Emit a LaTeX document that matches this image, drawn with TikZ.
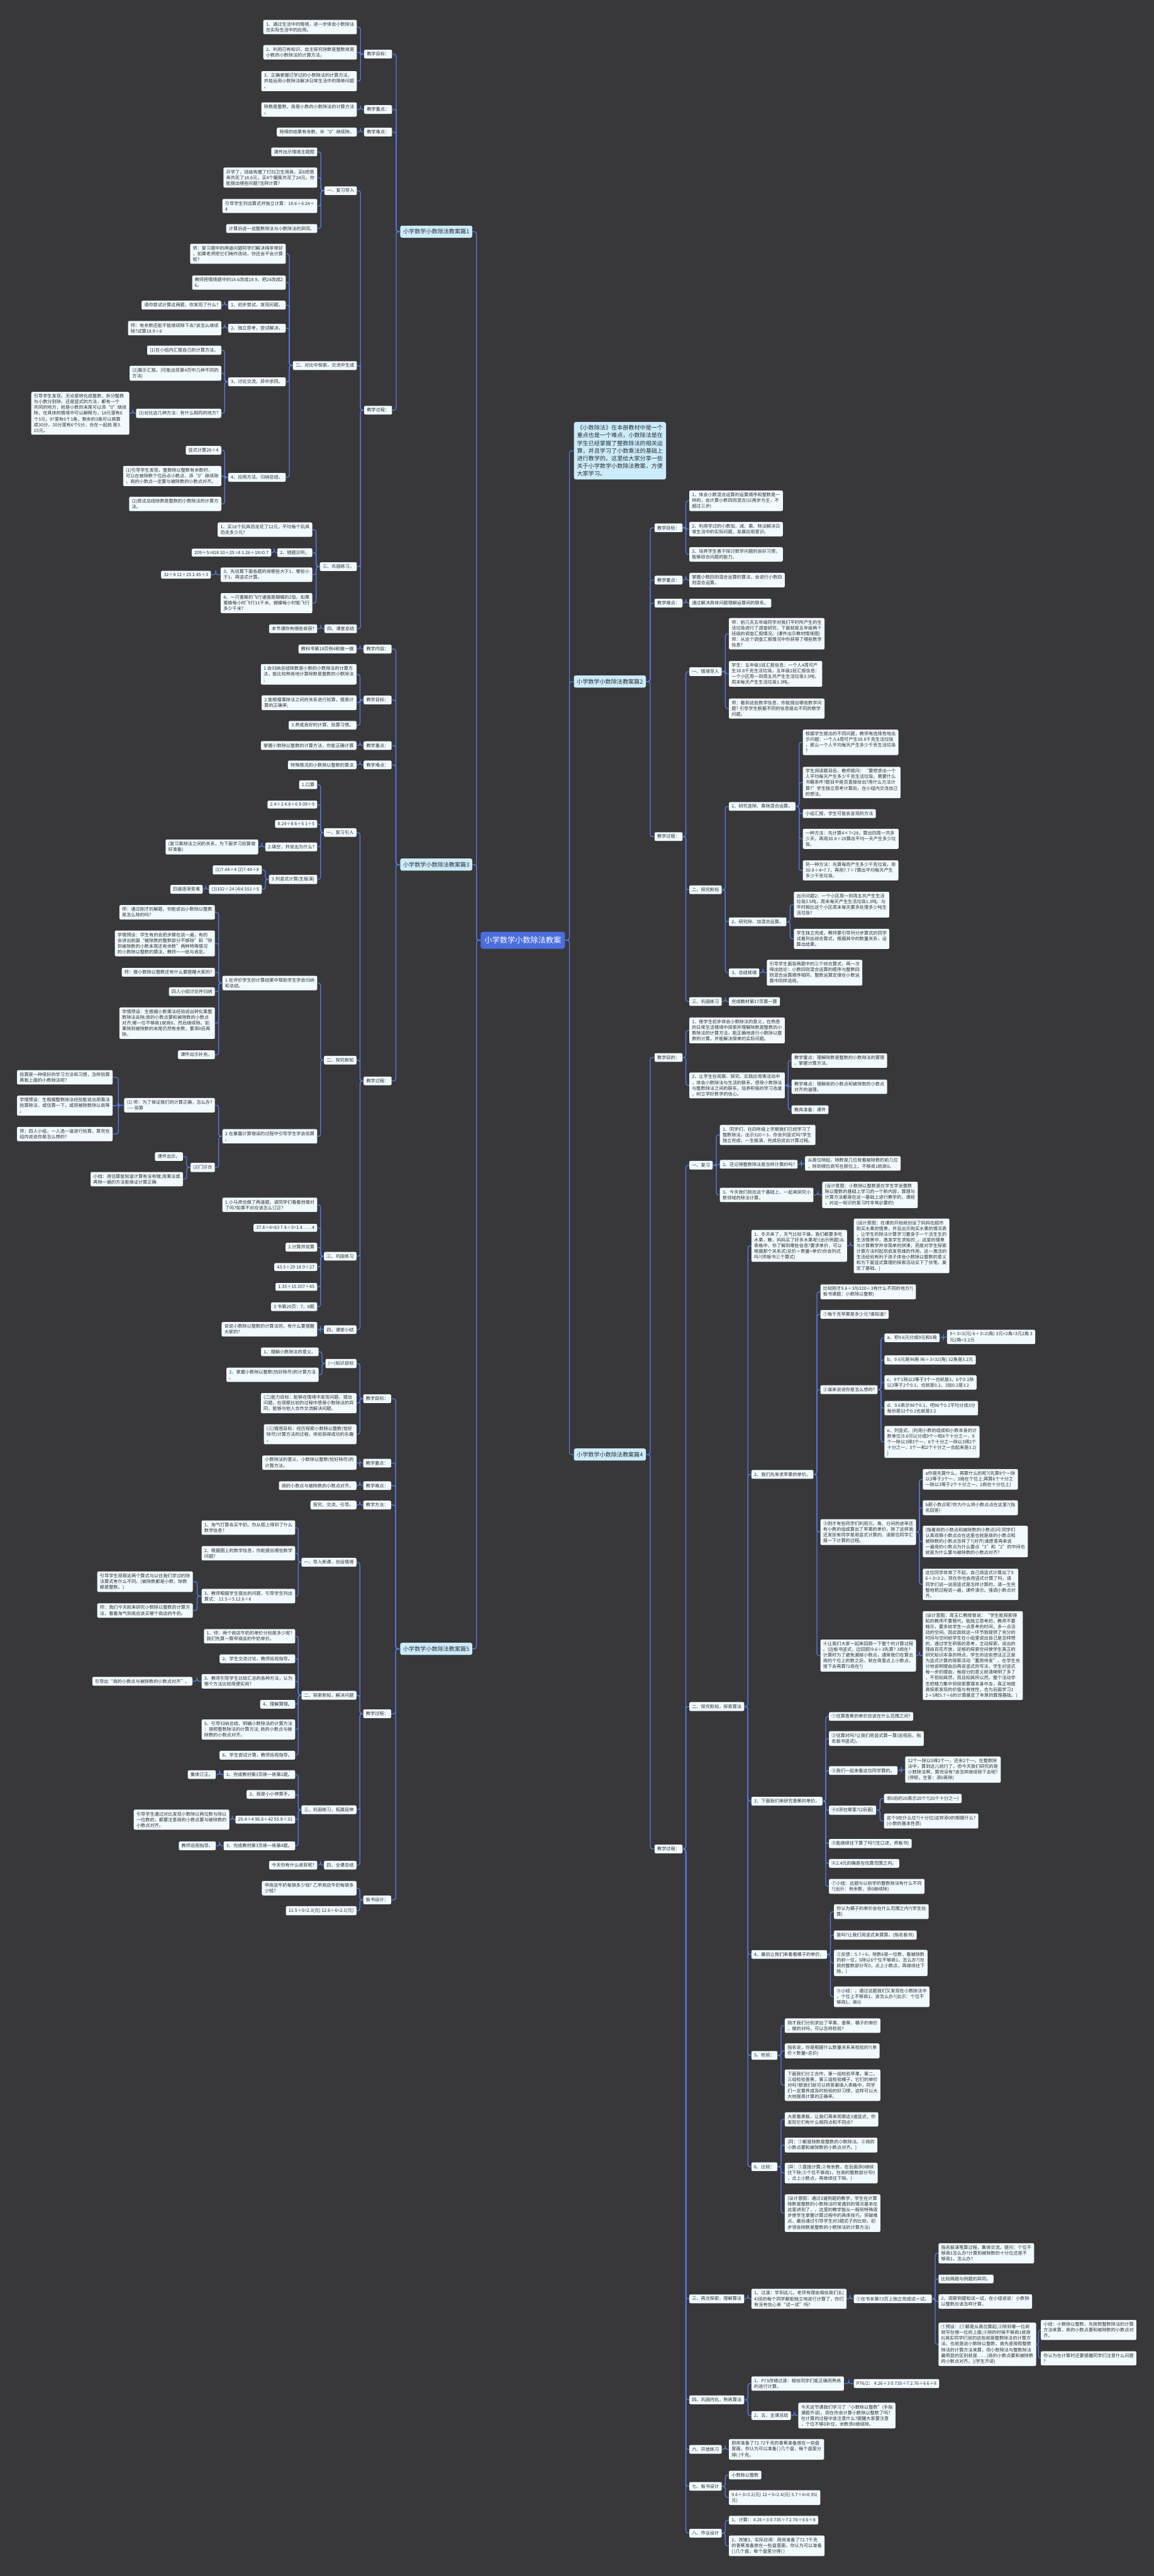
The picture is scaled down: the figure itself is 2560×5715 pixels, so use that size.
\documentclass[tikz,border=0pt]{standalone}
\usepackage{fontspec}
\setmainfont{Noto Sans CJK SC}
\usetikzlibrary{calc}
\definecolor{bgc}{RGB}{56,56,58}
\definecolor{lnc}{RGB}{88,122,228}
\definecolor{ndc}{RGB}{241,250,255}
\definecolor{mnc}{RGB}{204,236,252}
\definecolor{rtc}{RGB}{74,110,222}
\definecolor{txc}{RGB}{45,45,45}
\newcommand\cL[2]{\draw[conn] (#1.west) -| ($(#1.west)!.5!(#2.east)$) |- (#2.east);}
\newcommand\cR[2]{\draw[conn] (#1.east) -| ($(#1.east)!.5!(#2.west)$) |- (#2.west);}
\begin{document}
\begin{tikzpicture}[x=1pt,y=-1pt,
 conn/.style={draw=lnc,line width=1.8pt,rounded corners=5pt},
 nd/.style={fill=ndc,text=txc,rounded corners=3pt,inner xsep=6pt,inner ysep=5pt,align=left,font=\fontsize{10}{12.6}\selectfont},
 lf/.style={nd,anchor=east},
 rg/.style={nd,anchor=west},
 mn/.style={fill=mnc,text=txc,rounded corners=4pt,inner xsep=6.5pt,inner ysep=7.5pt,font=\fontsize{12.7}{16}\selectfont},
 rt/.style={fill=rtc,text=white,rounded corners=5pt,inner xsep=8.5pt,inner ysep=11pt,font=\fontsize{17}{20}\selectfont},
 intro/.style={fill=mnc,text=txc,rounded corners=5pt,inner xsep=7pt,inner ysep=7pt,align=left,font=\fontsize{12.7}{17}\selectfont}]
\fill[bgc] (0,0) rectangle (2560,5715);
\useasboundingbox (0,0) rectangle (2560,5715);
% ---------- root and main branches
\node[rt] (root) at (1160,2086) {小学数学小数除法教案};
\node[mn,anchor=east] (A) at (1048,514) {小学数学小数除法教案篇1};
\node[mn,anchor=east] (C) at (1048,1918) {小学数学小数除法教案篇3};
\node[mn,anchor=east] (E) at (1048,3658) {小学数学小数除法教案篇5};
\node[intro,anchor=west] (I) at (1273,1000) {《小数除法》在本册教材中是一个\\重点也是一个难点，小数除法是在\\学生已经掌握了整数除法的相关运\\算，并且学习了小数乘法的基础上\\进行教学的。这里给大家分享一些\\关于小学数学小数除法教案，方便\\大家学习。};
\node[mn,anchor=west] (B) at (1273,1512) {小学数学小数除法教案篇2};
\node[mn,anchor=west] (D) at (1273,3227) {小学数学小数除法教案篇4};
% ---------- 篇1
\node[lf] (A1) at (870,120) {教学目标：};
\node[lf] (A2) at (870,243) {教学重点：};
\node[lf] (A3) at (870,293) {教学难点：};
\node[lf] (A4) at (870,910) {教学过程：};
\node[lf] (A1a) at (792,60) {1、通过生活中的情境，进一步体会小数除法\\在实际生活中的应用。};
\node[lf] (A1b) at (792,116) {2、利用已有知识，自主探究除数是整数商是\\小数的小数除法的计算方法。};
\node[lf] (A1c) at (792,180) {3、正确掌握已学过的小数除法的计算方法，\\并能运用小数除法解决日常生活中的简单问题\\。};
\node[lf] (A2a) at (792,243) {除数是整数，商是小数的小数除法的计算方法\\。};
\node[lf] (A3a) at (792,293) {除得的结果有余数，补“0”继续除。};
\node[lf] (A41) at (792,423) {一、复习导入};
\node[lf] (A42) at (792,811) {二、对比中探索，交流中生成};
\node[lf] (A43) at (792,1257) {三、巩固练习。};
\node[lf] (A44) at (792,1395) {四、课堂总结};
\node[lf] (A41a) at (704,337) {课件出示情境主题图};
\node[lf] (A41b) at (704,394) {开学了，班级购置了打扫卫生用具，买6把笤\\帚共花了18.6元，买4个簸箕共花了24元。你\\能提出哪些问题?怎样计算?};
\node[lf] (A41c) at (704,457) {引导学生列出算式并独立计算：18.6÷6 24÷\\4};
\node[lf] (A41d) at (704,507) {计算后说一说整数除法与小数除法的异同。};
\node[lf] (A42a) at (634,563) {师：复习题中的两道问题同学们解决得非常好\\，如果老师把它们稍作改动，你还会不会计算\\呢?};
\node[lf] (A42b) at (634,627) {教师把情境题中的18.6改成18.9，把24改成2\\6。};
\node[lf] (A42c) at (634,677) {1、初步尝试，发现问题。};
\node[lf] (A42c1) at (491,677) {请你尝试计算这两题，你发现了什么?};
\node[lf] (A42d) at (634,728) {2、独立思考，尝试解决。};
\node[lf] (A42d1) at (491,728) {师：有余数还能不能继续除下去?该怎么继续\\除?试算18.9÷6};
\node[lf] (A42e) at (634,847) {3、讨论交流，异中求同。};
\node[lf] (A42e1) at (491,777) {(1)在小组内汇报自己的计算方法。};
\node[lf] (A42e2) at (491,828) {(2)展示汇报。(可能出现第4页中几种不同的\\方法)};
\node[lf] (A42e3) at (491,917) {(3)对比这几种方法：有什么相同的地方?};
\node[lf] (A42e3a) at (287,917) {引导学生发现，无论是转化成整数，拆分整数\\与小数分别除，还是竖式的方法，都有一个\\共同的地方，就是小数的末尾可以添“0”继续\\除，在具体的情境中可以解释为，18元里有6\\个3元，9?里有6个1角，剩余的3角可以换算\\成30分，30分里有6个5分，合在一起就 是3.\\15元。};
\node[lf] (A42f) at (634,1059) {4、应用方法，归纳总结。};
\node[lf] (A42f1) at (491,999) {竖式计算26÷4};
\node[lf] (A42f2) at (491,1056) {(1)引导学生发现，整数除以整数有余数时，\\可以在被除数个位后点小数点，添“0”继续除\\，商的小数点一定要与被除数的小数点对齐。};
\node[lf] (A42f3) at (491,1118) {(2)尝试总结除数是整数的小数除法的计算方\\法。};
\node[lf] (A43a) at (693,1175) {1、买16个玩具恐龙花了12元，平均每个玩具\\恐龙多少元?};
\node[lf] (A43b) at (693,1226) {2、错题诊所。};
\node[lf] (A43b1) at (602,1226) {209÷5=418 10÷25 =4 1.26÷18=0.7};
\node[lf] (A43c) at (693,1275) {3、先估算下面各题的商哪些大于1，哪些小\\于1，再竖式计算。};
\node[lf] (A43c1) at (468,1275) {32÷8 12÷25 2.45÷3};
\node[lf] (A43d) at (693,1338) {4、一只蜜蜂的飞行速度是蝴蝶的2倍。如果\\蜜蜂每小时飞行11千米，蝴蝶每小时能飞行\\多少千米?};
\node[lf] (A44a) at (704,1395) {本节课你有哪些收获?};
% ---------- 篇3
\node[lf] (C1) at (869,1440) {教学内容：};
\node[lf] (C2) at (869,1553) {教学目标：};
\node[lf] (C3) at (869,1654) {教学重点：};
\node[lf] (C4) at (869,1697) {教学难点：};
\node[lf] (C5) at (869,2398) {教学过程：};
\node[lf] (C1a) at (791,1440) {教科书第18页例4和做一做};
\node[lf] (C2a) at (791,1496) {1.会归纳总结除数是小数的小数除法的计算方\\法，能比较熟练地计算除数是整数的小数除法\\;};
\node[lf] (C2b) at (791,1559) {2.能根据乘除法之间的关系进行验算，提高计\\算的正确率;};
\node[lf] (C2c) at (791,1609) {3.养成良好的计算、验算习惯。};
\node[lf] (C3a) at (791,1654) {掌握小数除以整数的计算方法，你能正确计算};
\node[lf] (C4a) at (791,1697) {特殊情况的小数除以整数的算法};
\node[lf] (C51) at (791,1847) {一、复习引入};
\node[lf] (C52) at (791,2352) {二、探究新知};
\node[lf] (C53) at (791,2787) {三、巩固练习};
\node[lf] (C54) at (791,2950) {四、课堂小结};
\node[lf] (C51a) at (704,1741) {1.口算};
\node[lf] (C51b) at (704,1785) {2.4÷2 4.8÷6 9.09÷9};
\node[lf] (C51c) at (704,1828) {8.24÷8 6÷5 1÷5};
\node[lf] (C51d) at (704,1879) {2.填空，并说出为什么?};
\node[lf] (C51d1) at (573,1879) {(复习乘除法之间的关系，为下面学习验算做\\好准备)};
\node[lf] (C51e) at (704,1951) {3.列竖式计算(生板演)};
\node[lf] (C51e1) at (581,1930) {(1)7.44÷4 (2)7.44÷8};
\node[lf] (C51e2) at (581,1973) {(3)102÷24 (4)4.551÷5};
\node[lf] (C51e2a) at (450,1973) {四道逐渐变难};
\node[lf] (C52a) at (704,2181) {1.在评价学生的计算结果中帮助学生学会归纳\\和总结。};
\node[lf] (C52a1) at (477,2024) {师：通过刚才的解题，你能说出小数除以整数\\是怎么除的吗?};
\node[lf] (C52a2) at (477,2093) {学情预设：学生有的会把步骤在说一遍，有的\\会讲出前面“被除数的整数部分不够除”和“除\\到被除数的小数末尾还有余数”两种特殊情况\\的小数除以整数的算法，教师一一给与肯定。};
\node[lf] (C52a3) at (477,2157) {师：做小数除以整数还有什么要提醒大家的?};
\node[lf] (C52a4) at (477,2200) {四人小组讨论并归纳};
\node[lf] (C52a5) at (477,2270) {学情预设：生根据小数乘法经验说出转化乘整\\数除法去除;商的小数点要和被除数的小数点\\对齐;哪一位不够商1就商0，然后继续除。如\\果除到被除数的末尾仍然有余数，要添0后再\\除。};
\node[lf] (C52a6) at (477,2340) {课件出示补充。};
\node[lf] (C52b) at (704,2521) {2.在暴露计算错误的过程中引导学生学会验算\\。};
\node[lf] (C52b1) at (477,2452) {(1) 师：为了保证我们的计算正确，怎么办?\\——验算};
\node[lf] (C52b1a) at (250,2390) {验算是一种很好的学习方法和习惯，怎样验算\\黑板上面的小数除法呢?};
\node[lf] (C52b1b) at (250,2453) {学情预设：生根据整数除法经验能说出用乘法\\验算除法，或估算一下，或用被除数除以商等\\。};
\node[lf] (C52b1c) at (250,2516) {师：四人小组，一人选一道进行验算，算完在\\组内说说你是怎么想的?};
\node[lf] (C52b2) at (477,2590) {(2)门诊台};
\node[lf] (C52b2a) at (406,2566) {课件出示。};
\node[lf] (C52b2b) at (406,2616) {小结：用估算能知道计算有没有错;用乘法或\\再除一遍的方法能保证计算正确};
\node[lf] (C53a) at (704,2673) {1.小马虎也做了两道题，请同学们看看他做对\\了吗?如果不对应该怎么订正?};
\node[lf] (C53b) at (704,2724) {37.8÷6=63 7.4÷5=1.4……4};
\node[lf] (C53c) at (704,2767) {2.计算并验算};
\node[lf] (C53d) at (704,2811) {43.5÷29 18.9÷27};
\node[lf] (C53e) at (704,2855) {1.35÷15 207÷45};
\node[lf] (C53f) at (704,2899) {3.书第20页：7、8题};
\node[lf] (C54a) at (704,2949) {说说小数除以整数的计算法则，有什么要提醒\\大家的?};
% ---------- 篇5
\node[lf] (E1) at (868,3103) {教学目标：};
\node[lf] (E2) at (868,3246) {教学重点：};
\node[lf] (E3) at (868,3296) {教学难点：};
\node[lf] (E4) at (868,3339) {教学方法：};
\node[lf] (E5) at (868,3802) {教学过程：};
\node[lf] (E6) at (868,4215) {板书设计：};
\node[lf] (E1a) at (791,3025) {(一)知识目标};
\node[lf] (E1a1) at (707,2999) {1、理解小数除法的意义。};
\node[lf] (E1a2) at (707,3050) {2、掌握小数除以整数(恰好除尽)的计算方法\\。};
\node[lf] (E1b) at (791,3113) {(二)能力目标：能够在情境中发现问题、提出\\问题，在观察比较的过程中感受小数除法的异\\同，能够与他人合作交流解决问题。};
\node[lf] (E1c) at (791,3182) {(三)情感目标：经历探索小数除以整数(恰好\\除尽)计算方法的过程，体验获得成功的乐趣\\。};
\node[lf] (E2a) at (791,3245) {小数除法的意义，小数除以整数(恰好除尽)的\\计算方法。};
\node[lf] (E3a) at (791,3296) {商的小数点与被除数的小数点对齐。};
\node[lf] (E4a) at (791,3339) {探究、交流、引导。};
\node[lf] (E51) at (791,3466) {一、导入新课，创设情境};
\node[lf] (E52) at (791,3761) {二、探索新知，解决问题};
\node[lf] (E53) at (791,4015) {三、巩固练习，拓展延伸};
\node[lf] (E54) at (791,4138) {四、全课总结};
\node[lf] (E54a) at (704,4138) {今天你有什么收获呢?};
\node[lf] (E51a) at (655,3389) {1、淘气打算去买牛奶。你从图上得到了什么\\数学信息?};
\node[lf] (E51b) at (655,3446) {2、根据图上的数学信息，你能提出哪些数学\\问题?};
\node[lf] (E51c) at (655,3541) {3、教师根据学生提出的问题，引导学生列出\\算式：  11.5÷5 12.6÷6};
\node[lf] (E51c1) at (428,3509) {引导学生观察这两个算式与以往我们学过的除\\法算式有什么不同。(被除数都是小数，除数\\都是整数。)};
\node[lf] (E51c2) at (428,3573) {师：我们今天就来研究小数除以整数的计算方\\法，看看淘气到底应该买哪个商店的牛奶。};
\node[lf] (E52a) at (655,3630) {1、师：两个商店牛奶的单价分别是多少呢?\\我们先算一算甲商店的牛奶单价。};
\node[lf] (E52b) at (655,3680) {2、学生交流讨论，教师巡视指导。};
\node[lf] (E52c) at (655,3730) {3、教师引导学生比较汇总的各种方法，认为\\哪个方法比较简便实用?};
\node[lf] (E52c1) at (427,3730) {引导出“商的小数点与被除数的小数点对齐”。};
\node[lf] (E52d) at (655,3781) {4、理解算理。};
\node[lf] (E52e) at (655,3837) {5、引导归纳总结，明确小数除法的计算方法\\：按照整数除法的计算方法; 商的小数点与被\\除数的小数点对齐。};
\node[lf] (E52f) at (655,3894) {6、学生尝试计算，教师巡视指导。};
\node[lf] (E53a) at (655,3937) {1、完成教材第3页练一练第1题。};
\node[lf] (E53a1) at (479,3937) {集体订正。};
\node[lf] (E53b) at (655,3981) {2、我是小小神算手。};
\node[lf] (E53c) at (655,4037) {20.4÷4 96.6÷42 55.8÷31};
\node[lf] (E53c1) at (509,4037) {引导学生通过对比发现小数除以两位数与除以\\一位数的，都要注意商的小数点要与被除数的\\小数点对齐。};
\node[lf] (E53d) at (655,4095) {3、完成教材第3页练一练第4题。};
\node[lf] (E53d1) at (479,4095) {教师巡视指导。};
\node[lf] (E6a) at (791,4189) {甲商店牛奶每袋多少钱? 乙甲商店牛奶每袋多\\少钱?};
\node[lf] (E6b) at (791,4239) {11.5÷5=2.3(元) 12.6÷6=2.1(元)};
% ---------- 篇2
\node[rg] (B1) at (1452,1171) {教学目标：};
\node[rg] (B2) at (1452,1287) {教学重点：};
\node[rg] (B3) at (1452,1338) {教学难点：};
\node[rg] (B4) at (1452,1856) {教学过程：};
\node[rg] (B1a) at (1529,1111) {1、体会小数混合运算的运算顺序和整数是一\\样的，会计算小数四则混合(以两步为主，不\\超过三步)};
\node[rg] (B1b) at (1529,1174) {2、利用学过的小数加、减、乘、除法解决日\\常生活中的实际问题，发展应用意识。};
\node[rg] (B1c) at (1529,1230) {3、培养学生善于探讨数学问题的良好习惯，\\能够综合问题的能力。};
\node[rg] (B2a) at (1529,1287) {掌握小数四则混合运算的算法，会进行小数四\\则混合运算。};
\node[rg] (B3a) at (1529,1338) {通过解决具体问题理解运算间的联系。};
\node[rg] (B41) at (1529,1490) {一、情境导入};
\node[rg] (B42) at (1529,1974) {二、探究新知};
\node[rg] (B43) at (1529,2222) {三、巩固练习};
\node[rg] (B41a) at (1617,1406) {师：前几天五年级同学对我们平时所产生的生\\活垃圾进行了调查研究，下面就是五年级两个\\班级的调查汇报情况。(课件出示教材情境图)\\师：从这个调查汇报情况中你获得了哪些数学\\信息?};
\node[rg] (B41b) at (1617,1495) {学生：五年级1班汇报信息：一个人4周可产\\生30.8千克生活垃圾，五年级2班汇报信息：\\一个小区周一到周五共产生生活垃圾3.5吨，\\周末每天产生生活垃圾1.3吨。};
\node[rg] (B41c) at (1617,1572) {师：看到这些数学信息，你能提出哪些数学问\\题? 引导学生根据不同的信息提出不同的数学\\问题。};
\node[rg] (B42a) at (1617,1789) {1、研究连除、乘除混合运算。};
\node[rg] (B42b) at (1617,2045) {2、研究除、加混合运算。};
\node[rg] (B42c) at (1617,2158) {3、总结规律};
\node[rg] (B42a1) at (1781,1647) {根据学生提出的不同问题，教师有选择性地出\\示问题：一个人4周可产生30.8千克生活垃圾\\，那么一个人平均每天产生多少千克生活垃圾\\?};
\node[rg] (B42a2) at (1781,1736) {学生阅读题目后，教师提问：“要想求出一个\\人平均每天产生多少千克生活垃圾，需要什么\\书籍条件?题目中是否直接给出?用什么方法计\\算?”学生独立思考计算后，在小组内交流自己\\的想法。};
\node[rg] (B42a3) at (1781,1805) {小组汇报，学生可能会呈现的方法};
\node[rg] (B42a4) at (1781,1861) {一种方法：先计算4×7=28，算出四周一共多\\少天，再用30.8÷28算出平均一天产生多少垃\\圾。};
\node[rg] (B42a5) at (1781,1931) {另一种方法：先算每周产生多少千克垃圾，用\\30.8÷4=7.7，再用7.7÷7算出平均每天产生\\多少千克垃圾。};
\node[rg] (B42b1) at (1761,2007) {出示问题2：一个小区周一到周五共产生生活\\垃圾3.5吨，周末每天产生生活垃圾1.3吨。与\\平时相比这个小区周末每天要多处理多少吨生\\活垃圾?};
\node[rg] (B42b2) at (1761,2083) {学生独立完成，教师要引导列分步算式的同学\\试着列出综合算式，根据其中的数量关系，运\\算出结果。};
\node[rg] (B42c1) at (1701,2158) {引导学生面容两题中的三个综合算式，再一次\\得出结论：小数四则混合运算的顺序与整数四\\则混合运算顺序相同，整数运算定律在小数运\\算中同样适用。};
\node[rg] (B43a) at (1617,2222) {完成教材第17页算一算};
% ---------- 篇4
\node[rg] (D1) at (1452,2346) {教学目的：};
\node[rg] (D2) at (1452,4102) {教学过程：};
\node[rg] (D1a) at (1529,2286) {1、使学生初步体会小数除法的意义，在熟悉\\的日常生活情境中探索并理解除数是整数的小\\数除法的计算方法，能正确地进行小数除以整\\数的计算，并能解决简单的实际问题。};
\node[rg] (D1b) at (1529,2408) {2、让学生在观察、探究、实践应用等活动中\\，体会小数除法与生活的联系，感受小数除法\\与整数除法之间的联系，培养积极的学习态度\\，树立学好数学的信心。};
\node[rg] (D1b1) at (1756,2353) {教学重点：理解除数是整数的小数除法的算理\\，掌握计算方法。};
\node[rg] (D1b2) at (1756,2411) {教学难点：理解商的小数点和被除数的小数点\\对齐的道理。};
\node[rg] (D1b3) at (1756,2462) {教具准备：课件};
\node[rg] (D21) at (1529,2585) {一、复习};
\node[rg] (D22) at (1529,3786) {二、探究新知，探索算法};
\node[rg] (D23) at (1529,5100) {三、再次探索，理解算法};
\node[rg] (D24) at (1529,5324) {四、巩固内化，熟练算法};
\node[rg] (D26) at (1529,5434) {六、开放练习};
\node[rg] (D27) at (1529,5516) {七、板书设计};
\node[rg] (D28) at (1529,5620) {八、作业设计};
\node[rg] (D21a) at (1597,2518) {1、同学们，在四年级上学期我们已经学习了\\整数除法，出示320÷3，你会列竖式吗?学生\\独立完成，一生板演，完成后说出计算过程。};
\node[rg] (D21b) at (1597,2583) {2、还记得整数除法是怎样计算的吗?};
\node[rg] (D21b1) at (1786,2581) {从高位除起，除数是几位就看被除数的前几位\\，除到哪位商写在那位上。不够商1就商0。};
\node[rg] (D21c) at (1597,2651) {3、今天我们就在这个基础上，一起来研究小\\数领域的除法计算。};
\node[rg] (D21c1) at (1824,2651) {(设计意图：小数除以整数是在学生学会整数\\除以整数的基础上学习的一个新内容，算理与\\计算方法都是在这一基础上进行教学的，课前\\，对这一知识的复习时非常必要的)};
\node[rg] (D22a) at (1667,2764) {1、冬天来了，天气比较干燥，我们都要多吃\\水果，瞧，妈妈买了好多水果呢!(出示例题)从\\表格中，你了解到哪些信息?要求单价，可以\\根据那个关系式(总价÷数量=单价)你会列式\\吗?(师板书三个算式)};
\node[rg] (D22a1) at (1894,2764) {(设计意图：在课的开始就创设了妈妈在超市\\购买水果的情景，并且出示购买水果的情况表\\，让学生的除法计算学习置身于一个活生生的\\生活情景中，激发学生求知的\_。这里的情景\\与计算教学并非简单的拼凑，而是对学生探索\\计算方法时起到启发思维的作用，这一激活的\\生活经验有利于孩子体会小数除以整数的意义\\和为下面竖式算理的探索活动买下了伏笔，奠\\定了基础。)};
\node[rg] (D22b) at (1667,3271) {2、我们先来求苹果的单价。};
\node[rg] (D22b1) at (1820,2866) {比较刚才9.6÷3与320÷3有什么不同的地方?(\\板书课题：小数除以整数)};
\node[rg] (D22b2) at (1820,2916) {①每千克苹果是多少元?谁知道?};
\node[rg] (D22b3) at (1820,3083) {②谁来说说你是怎么想的?};
\node[rg] (D22b3a) at (1962,2968) {a、把9.6元分成9元和6角};
\node[rg] (D22b3a1) at (2101,2966) {9÷3=3(元) 6÷3=2(角) 3元+2角=3元2角 3\\元2角=3.2元};
\node[rg] (D22b3b) at (1962,3017) {b、9.6元是96角 96÷3=32(角) 32角是3.2元};
\node[rg] (D22b3c) at (1962,3067) {c、9个1除以3等于3个一也就是3，6个0.1除\\以3等于2个0.1，也就是0.2，3加0.2是3.2};
\node[rg] (D22b3d) at (1962,3124) {d、9.6表示96个0.1，吧96个0.1平均分成3分\\每份是32个0.1也就是3.2};
\node[rg] (D22b3e) at (1962,3199) {e、列竖式。(利用小数的组成和小数本身的计\\数单位(9.6可以分成9个一和6个十分之一，9\\个一除以3得3个一，6个十分之一除以3得2个\\十分之一，3个一和2个十分之一合起来是3.2)\\)};
\node[rg] (D22b4) at (1820,3399) {③刚才有些同学们利用元、角、分间的进率还\\有小数的组成算出了苹果的单价，除了这样我\\还发现有同学是用竖式计算的。请那位同学汇\\报一下计算的过程。};
\node[rg] (D22b4a) at (2047,3282) {a你是先算什么，再算什么的呢?(先算9个一除\\以3等于3个一，3商在个位上;再算6个十分之\\一除以3等于2个十分之一，2商在十分位上)};
\node[rg] (D22b4b) at (2047,3345) {b那小数点呢?你为什么将小数点点在这里?(指\\名回答)};
\node[rg] (D22b4c) at (2047,3420) {(指着商的小数点和被除数的小数点)问:同学们\\认真观察小数点点在这里也就是商的小数点和\\被除数的小数点怎样了?(对齐)谁愿意再来说\\一遍商的小数点为什么要点“3”和“2”的中间也\\就是为什么要与被除数的小数点对齐?};
\node[rg] (D22b4d) at (2047,3515) {这位同学非常了不起，自己用竖式计算出了9.\\6÷3=3.2，现在你也会用竖式计算了吗，请\\同学们说一说用竖式是怎样计算的。请一生完\\整地把过程说一遍，课件演示。强调小数点对\\齐。};
\node[rg] (D22b5) at (1820,3673) {④让我们大家一起来回顾一下整个的计算过程\\。(边板书竖式，边回顾)9.6÷3先算? 3商在?\\计算时为了避免漏掉小数点，通常我们在算出\\商的个位上的数之后，就在商里点上小数点。\\接下去再算?2商在?)};
\node[rg] (D22b5a) at (2047,3673) {(设计意图：周玉仁教授曾说：“学生能探索得\\知的教师不要替代，能独立思考的，教师不要\\暗示，要多给学生一点思考的时间，多一点活\\动的空间。因此我就这一环节我提供了充分的\\时间与空间给学生在小组里说出自己是怎样想\\的，通过学生积极的思考，主动探索，说出的\\理由百花齐放，足够的探索空间使学生真正的\\研究知识本身的特点，学生的这些想法正正是\\为竖式计算的探索活动“蓄势待发”，在学生充\\分地说明理由后再说竖式的写法，学生对竖式\\每一步的理由，每部分的意义就清晰明了多了\\，不但知其然，而且知其所以然。整个活动学\\生把精力集中到探索算理本身中去，真正地提\\高探索发现的价值与有效性，也为后面学习1\\2÷5和5.7÷6的计算奠定了丰厚的算理基础。)};
\node[rg] (D22c) at (1667,3996) {3、下面我们来研究香蕉的单价。};
\node[rg] (D22c1) at (1839,3808) {①估算香蕉的单价应该在什么范围之间?};
\node[rg] (D22c2) at (1839,3857) {②估算对吗?让我们用竖式算一算(巡视后，指\\名板书竖式)。};
\node[rg] (D22c3) at (1839,3928) {③我们一起来看这位同学算的。};
\node[rg] (D22c3a) at (2008,3926) {12个一除以5得2个一，还余2个一。在整数除\\法中，算到这儿就行了。但今天我们研究的是\\小数除法啊，算完没有?该怎样继续除下去呢?\\(停顿，生答：添0再除)};
\node[rg] (D22c4) at (1839,4016) {④0添在哪里?(2后面)};
\node[rg] (D22c4a) at (1961,3990) {添0后的20表示20个?(20个十分之一)};
\node[rg] (D22c4b) at (1961,4040) {这个0在什么位?(十分位)这样添0的根据什么?\\(小数的基本性质)};
\node[rg] (D22c5) at (1839,4090) {⑤能继续往下算了吗?(生口述，师板书)};
\node[rg] (D22c6) at (1839,4134) {⑥2.4元的确是在估算范围之内。};
\node[rg] (D22c7) at (1839,4185) {⑦小结：这题与以前学的整数除法有什么不同\\?(出示：有余数，添0继续除)};
\node[rg] (D22d) at (1667,4336) {4、最后让我们来看看橘子的单价。};
\node[rg] (D22d1) at (1850,4241) {你认为橘子的单价会在什么范围之内?(学生估\\算)};
\node[rg] (D22d2) at (1850,4293) {是吗?让我们用竖式来算算。(指名板书)};
\node[rg] (D22d3) at (1850,4355) {②反馈：5.7÷6，除数6是一位数，看被除数\\的前一位，5除以6个位不够商1，怎么办?(在\\商的整数部分写0，点上小数点，再继续往下\\除。)};
\node[rg] (D22d4) at (1850,4430) {③小结：，通过这题我们又发现在小数除法中\\，个位上不够商1，该怎么办?(出示：个位不\\够商1，商0)};
\node[rg] (D22e) at (1667,4560) {5、检验：};
\node[rg] (D22e1) at (1741,4494) {刚才我们分别求出了苹果、香蕉、橘子的单价\\，做的对吗，可以怎样检验?};
\node[rg] (D22e2) at (1741,4550) {指名说，你是根据什么数量关系来检验的?(单\\价×数量=总价)};
\node[rg] (D22e3) at (1741,4626) {下面我们分工合作，第一组检验苹果，第二、\\三组检验香蕉，第三组检验橘子。它们的单价\\对吗?那我们就可以将答案填入表格中，同学\\们一定要养成及时检验的好习惯，这样可以大\\大地提高计算的正确率。};
\node[rg] (D22f) at (1667,4807) {6、比较：};
\node[rg] (D22f1) at (1741,4702) {大家看黑板，让我们再来观察这3道竖式，你\\发现它们有什么相同点和不同点?};
\node[rg] (D22f2) at (1741,4759) {(同：①都是除数是整数的小数除法。②商的\\小数点要和被除数的小数点对齐。)};
\node[rg] (D22f3) at (1741,4821) {(异：①直接计算;②有余数，在后面添0继续\\往下除;③个位不够商1，在商的整数部分写0\\，点上小数点，再继续往下除。)};
\node[rg] (D22f4) at (1741,4910) {(设计意图：通过3道例题的教学，学生在计算\\除数是整数的小数除法时常遇到的情况基本在\\这里讲到了，，这里的教学能从一般到特殊逐\\步使学生掌握计算过程中的具体技巧，突破难\\点，最后通过引导学生对3题式子的比较，初\\步领会除数是整数的小数除法的计算方法)};
\node[rg] (D23a) at (1667,5100) {1、过渡：学到这儿，老师有理由相信我们五(\\4)班的每个同学都能独立地进行计算了，你们\\有没有信心来“试一试”吗?};
\node[rg] (D23a1) at (1894,5100) {①在书本第73页上独立完成试一试。};
\node[rg] (D23a1a) at (2082,4999) {指名板演笔算过程，集体交流。提问：个位不\\够商1怎么办?计算到被除数的十分位还是不\\够商1，怎么办?};
\node[rg] (D23a1b) at (2082,5056) {比较两题与例题的异同。};
\node[rg] (D23a1c) at (2082,5106) {2，观察例题和试一试，在小组说说：小数除\\以整数应该怎样计算。};
\node[rg] (D23a1d) at (2082,5201) {①预设：(①都是从高位算起;②除到哪一位商\\就写在哪一位的上面;③除的时候不够商1就商\\0)其实同学们说的这些就是整数除法的计算方\\法。也就是说小数除以整数，首先是按照整数\\除法的计算方法来算，但小数除法与整数除法\\最明显的区别就是……(商的小数点要和被除数\\的小数点对齐。)(学生齐读)};
\node[rg] (D23a1d1) at (2309,5169) {小结：小数除以整数，先按照整数除法的计算\\方法来算，商的小数点要和被除数的小数点对\\齐。};
\node[rg] (D23a1d2) at (2309,5232) {你认为在计算时还要提醒同学们注意什么问题\\?};
\node[rg] (D24a) at (1667,5288) {1、P73改错过渡：相信同学们能正确而熟练\\的进行计算。};
\node[rg] (D24a1) at (1894,5288) {P76/2： 4.26÷3 0.735÷7 2.76÷6 6÷8};
\node[rg] (D24b) at (1667,5359) {2、五、全课总结};
\node[rg] (D24b1) at (1771,5359) {今天这节课我们学习了“小数除以整数”(手指\\课题齐读)，现在你会计算小数除以整数了吗?\\在计算的过程中该注意什么?提醒大家要注意\\，个位不够0补位，余数添0继续除。};
\node[rg] (D26a) at (1617,5434) {厨房准备了72.72千克的香蕉准备放在一些盘\\里面，你认为可以准备( )几个盘，每个盘里分\\得( )千克。};
\node[rg] (D27a) at (1617,5491) {小数除以整数};
\node[rg] (D27b) at (1617,5541) {9.6÷3=3.2(元) 12÷5=2.4(元) 5.7÷6=0.95(\\元)};
\node[rg] (D28a) at (1617,5591) {1、计算： 4.26÷3 0.735÷7 2.76÷6 6÷8};
\node[rg] (D28b) at (1617,5648) {2、改错3、实际应用：厨房准备了72.7千克\\的香蕉准备放在一些盘里面，你认为可以准备\\( )几个盘，每个盘里分得( )};
% ---------- connectors
\foreach \pp/\qq in {root/A,root/C,root/E,
 A/A1,A/A2,A/A3,A/A4,A1/A1a,A1/A1b,A1/A1c,A2/A2a,A3/A3a,A4/A41,A4/A42,A4/A43,A4/A44,
 A41/A41a,A41/A41b,A41/A41c,A41/A41d,A42/A42a,A42/A42b,A42/A42c,A42/A42d,A42/A42e,A42/A42f,
 A42c/A42c1,A42d/A42d1,A42e/A42e1,A42e/A42e2,A42e/A42e3,A42e3/A42e3a,A42f/A42f1,A42f/A42f2,A42f/A42f3,
 A43/A43a,A43/A43b,A43/A43c,A43/A43d,A43b/A43b1,A43c/A43c1,A44/A44a,
 C/C1,C/C2,C/C3,C/C4,C/C5,C1/C1a,C2/C2a,C2/C2b,C2/C2c,C3/C3a,C4/C4a,
 C5/C51,C5/C52,C5/C53,C5/C54,C51/C51a,C51/C51b,C51/C51c,C51/C51d,C51/C51e,C51d/C51d1,
 C51e/C51e1,C51e/C51e2,C51e2/C51e2a,C52/C52a,C52/C52b,
 C52a/C52a1,C52a/C52a2,C52a/C52a3,C52a/C52a4,C52a/C52a5,C52a/C52a6,
 C52b/C52b1,C52b/C52b2,C52b1/C52b1a,C52b1/C52b1b,C52b1/C52b1c,C52b2/C52b2a,C52b2/C52b2b,
 C53/C53a,C53/C53b,C53/C53c,C53/C53d,C53/C53e,C53/C53f,C54/C54a,
 E/E1,E/E2,E/E3,E/E4,E/E5,E/E6,E1/E1a,E1/E1b,E1/E1c,E1a/E1a1,E1a/E1a2,E2/E2a,E3/E3a,E4/E4a,
 E5/E51,E5/E52,E5/E53,E5/E54,E54/E54a,E51/E51a,E51/E51b,E51/E51c,E51c/E51c1,E51c/E51c2,
 E52/E52a,E52/E52b,E52/E52c,E52/E52d,E52/E52e,E52/E52f,E52c/E52c1,
 E53/E53a,E53/E53b,E53/E53c,E53/E53d,E53a/E53a1,E53c/E53c1,E53d/E53d1,E6/E6a,E6/E6b}
 {\cL{\pp}{\qq}}
\foreach \pp/\qq in {root/I,root/B,root/D,
 B/B1,B/B2,B/B3,B/B4,B1/B1a,B1/B1b,B1/B1c,B2/B2a,B3/B3a,B4/B41,B4/B42,B4/B43,
 B41/B41a,B41/B41b,B41/B41c,B42/B42a,B42/B42b,B42/B42c,
 B42a/B42a1,B42a/B42a2,B42a/B42a3,B42a/B42a4,B42a/B42a5,B42b/B42b1,B42b/B42b2,B42c/B42c1,B43/B43a,
 D/D1,D/D2,D1/D1a,D1/D1b,D1b/D1b1,D1b/D1b2,D1b/D1b3,
 D2/D21,D2/D22,D2/D23,D2/D24,D2/D26,D2/D27,D2/D28,
 D21/D21a,D21/D21b,D21/D21c,D21b/D21b1,D21c/D21c1,
 D22/D22a,D22/D22b,D22/D22c,D22/D22d,D22/D22e,D22/D22f,D22a/D22a1,
 D22b/D22b1,D22b/D22b2,D22b/D22b3,D22b/D22b4,D22b/D22b5,
 D22b3/D22b3a,D22b3/D22b3b,D22b3/D22b3c,D22b3/D22b3d,D22b3/D22b3e,D22b3a/D22b3a1,
 D22b4/D22b4a,D22b4/D22b4b,D22b4/D22b4c,D22b4/D22b4d,D22b5/D22b5a,
 D22c/D22c1,D22c/D22c2,D22c/D22c3,D22c/D22c4,D22c/D22c5,D22c/D22c6,D22c/D22c7,
 D22c3/D22c3a,D22c4/D22c4a,D22c4/D22c4b,
 D22d/D22d1,D22d/D22d2,D22d/D22d3,D22d/D22d4,D22e/D22e1,D22e/D22e2,D22e/D22e3,
 D22f/D22f1,D22f/D22f2,D22f/D22f3,D22f/D22f4,
 D23/D23a,D23a/D23a1,D23a1/D23a1a,D23a1/D23a1b,D23a1/D23a1c,D23a1/D23a1d,
 D23a1d/D23a1d1,D23a1d/D23a1d2,D24/D24a,D24/D24b,D24a/D24a1,D24b/D24b1,
 D26/D26a,D27/D27a,D27/D27b,D28/D28a,D28/D28b}
 {\cR{\pp}{\qq}}
\end{tikzpicture}
\end{document}
